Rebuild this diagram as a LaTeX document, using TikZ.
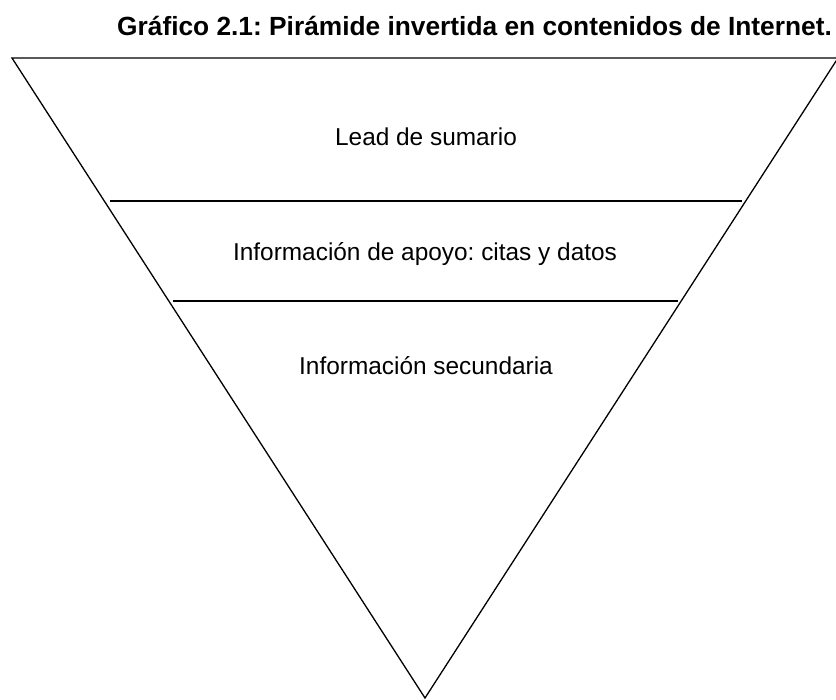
\documentclass[tikz,border=0pt]{standalone}
\usepackage{fontspec}
\setmainfont{Liberation Sans}
\frenchspacing
\begin{document}
\begin{tikzpicture}[x=1pt,y=-1pt,
  edge/.style={line width=1.3pt,line join=miter},
  divider/.style={line width=1.3pt},
  label/.style={anchor=base,inner sep=0pt,font=\fontsize{24.4}{28}\selectfont},
  titletext/.style={anchor=base west,inner sep=0pt,font=\fontsize{26.3}{30}\bfseries\selectfont}]
\useasboundingbox (0,0) rectangle (836,700);
\clip (0,0) rectangle (836,700);
\coordinate (tl) at (12,58);
\coordinate (tr) at (838,58);
\coordinate (bt) at (425,698);
\draw[edge] (tl) -- (tr) -- (bt) -- cycle;
\coordinate (a1) at (110,201);
\coordinate (a2) at (742,201);
\coordinate (b1) at (173,301);
\coordinate (b2) at (678,301);
\draw[divider] (a1) -- (a2);
\draw[divider] (b1) -- (b2);
\node[titletext] (title) at (117,36) {Gráfico 2.1: Pirámide invertida en contenidos de Internet.};
\node[label] (lead) at (426,146) {Lead de sumario};
\node[label] (apoyo) at (425,261) {Información de apoyo: citas y datos};
\node[label] (sec) at (426,375) {Información secundaria};
\end{tikzpicture}
\end{document}
